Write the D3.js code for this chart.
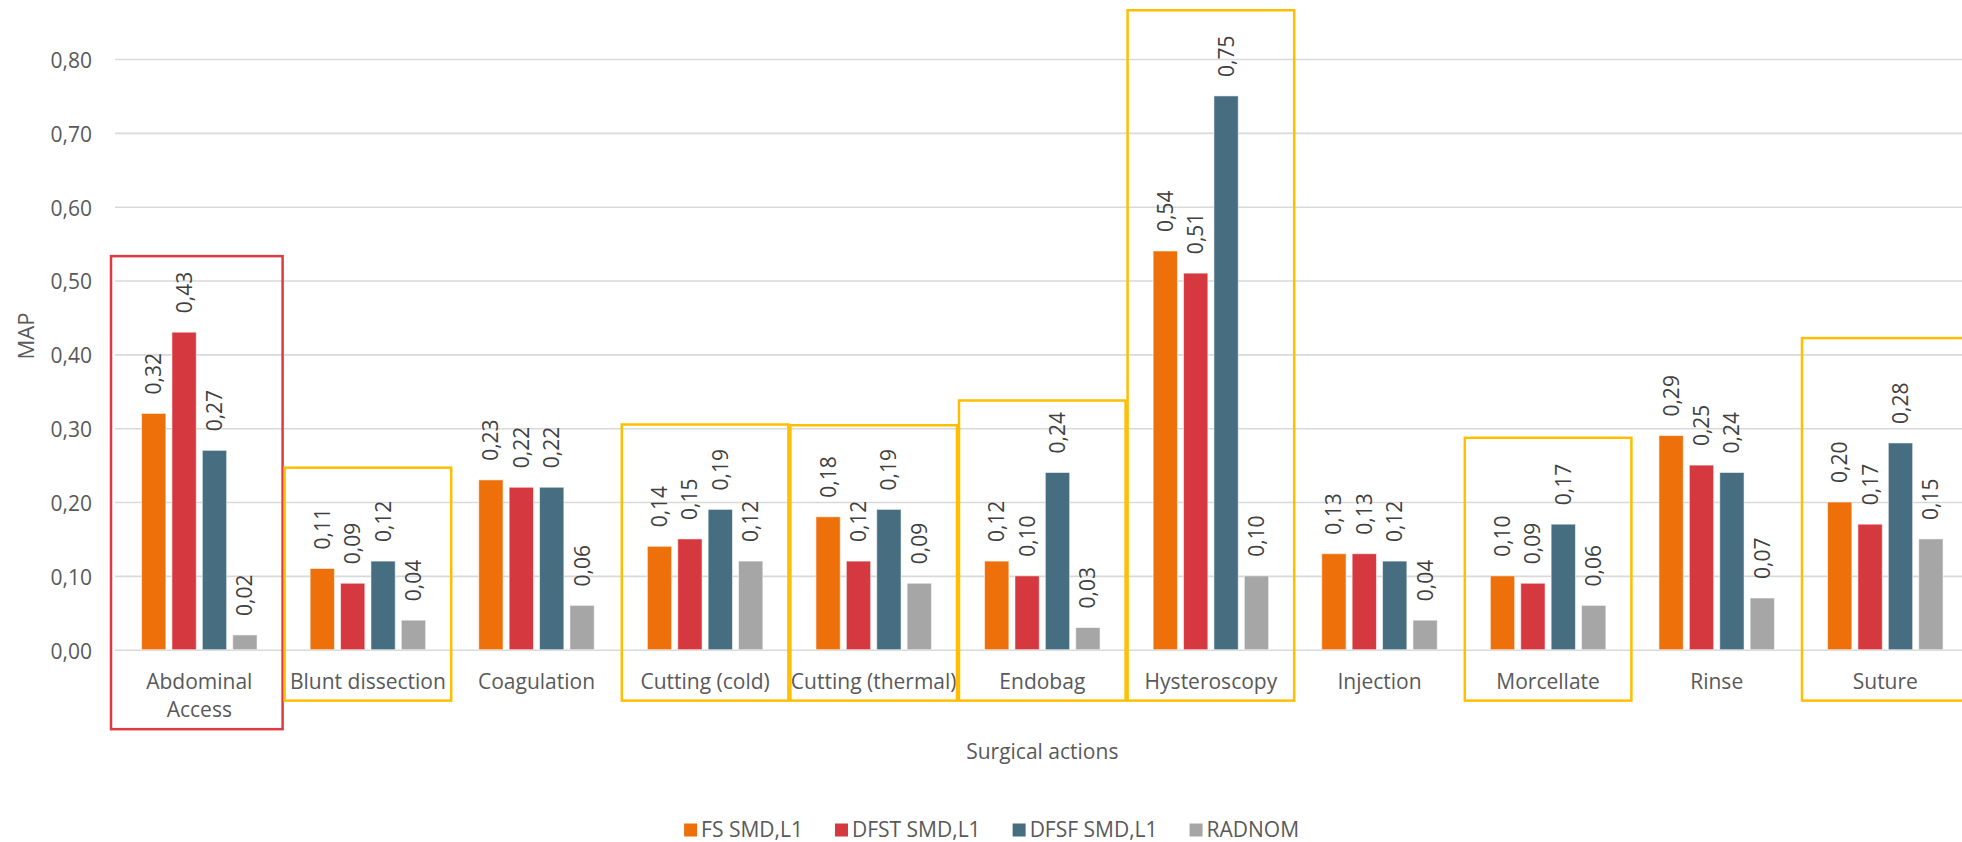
<!DOCTYPE html>
<html>
<head>
<meta charset="utf-8">
<script src="https://cdn.jsdelivr.net/npm/d3@7"></script>
<style>
  html, body { margin: 0; padding: 0; background: #ffffff; }
  svg { display: block; font-family: "Open Sans", "Noto Sans", sans-serif; }
</style>
</head>
<body>
<svg id="chart" width="1962" height="842"></svg>
<script>
// ---- data ----
const categories = [
  "Abdominal Access", "Blunt dissection", "Coagulation", "Cutting (cold)",
  "Cutting (thermal)", "Endobag", "Hysteroscopy", "Injection",
  "Morcellate", "Rinse", "Suture"
];
const seriesNames = ["FS SMD,L1", "DFST SMD,L1", "DFSF SMD,L1", "RADNOM"];
const fsSmd   = [0.32, 0.11, 0.23, 0.14, 0.18, 0.12, 0.54, 0.13, 0.10, 0.29, 0.20];
const dfstSmd = [0.43, 0.09, 0.22, 0.15, 0.12, 0.10, 0.51, 0.13, 0.09, 0.25, 0.17];
const dfsfSmd = [0.27, 0.12, 0.22, 0.19, 0.19, 0.24, 0.75, 0.12, 0.17, 0.24, 0.28];
const radnom  = [0.02, 0.04, 0.06, 0.12, 0.09, 0.03, 0.10, 0.04, 0.06, 0.07, 0.15];
const yTicks  = [0, 0.1, 0.2, 0.3, 0.4, 0.5, 0.6, 0.7, 0.8];

// highlighted groups: category and the MAP level where the frame starts
const frameCategories = ["Abdominal Access", "Blunt dissection", "Cutting (cold)", "Cutting (thermal)",
                         "Endobag", "Hysteroscopy", "Morcellate", "Suture"];
const frameTops       = [0.533, 0.2465, 0.305, 0.304, 0.3375, 0.866, 0.287, 0.422];
const frameKinds      = ["primary", "secondary", "secondary", "secondary",
                         "secondary", "secondary", "secondary", "secondary"];

// ---- styles ----
const seriesColors = ["#EE700B", "#D6383F", "#466D80", "#A6A6A6"];
const frameColors = { primary: "#DE3A42", secondary: "#FFBF00" };
const textColor = "#595959";
const gridColor = "#D9D9D9";

const series = [fsSmd, dfstSmd, dfsfSmd, radnom];
const rows = categories.map((c, i) => ({
  category: c,
  values: seriesNames.map((s, k) => ({ series: s, key: k, value: series[k][i] }))
}));

const svg = d3.select("#chart");
const plotLeft = 115, plotRight = 1969.6, plotTop = 59, plotBottom = 649.7;

const x0 = d3.scaleBand().domain(categories).range([plotLeft, plotRight])
  .paddingInner(0.315).paddingOuter(0.1575);
const x1 = d3.scaleBand().domain(seriesNames).range([0, x0.bandwidth()]).paddingInner(0.2);
const y = d3.scaleLinear().domain([0, 0.8]).range([plotBottom, plotTop]);
const step = x0.step();
const fmt = d => d3.format(".2f")(d).replace(".", ",");

// ---- y axis with gridlines ----
const yAxis = svg.append("g")
  .attr("transform", `translate(${plotLeft},0)`)
  .call(d3.axisLeft(y).tickValues(yTicks).tickFormat(fmt)
        .tickSize(-(plotRight - plotLeft)).tickPadding(23));
yAxis.select(".domain").remove();
yAxis.selectAll(".tick line").attr("stroke", gridColor).attr("stroke-width", 1.6);
yAxis.selectAll(".tick text")
  .attr("fill", textColor).attr("font-size", 21)
  .attr("font-family", "'Open Sans', sans-serif").attr("dy", "0.4em");

// ---- x axis (category labels) ----
const xAxis = svg.append("g")
  .attr("transform", `translate(0,${plotBottom})`)
  .call(d3.axisBottom(x0).tickSize(0).tickPadding(24));
xAxis.select(".domain").remove();
xAxis.selectAll(".tick text")
  .attr("fill", textColor).attr("font-size", 21)
  .attr("font-family", "'Open Sans', sans-serif");

// wrap labels that do not fit in their category slot
xAxis.selectAll(".tick text").each(function(d) {
  const t = d3.select(this);
  if (this.getComputedTextLength() <= step * 1.03) return;
  const words = d.split(" ");
  t.text(null);
  let line = [];
  let tspan = t.append("tspan").attr("x", 0).attr("dy", "0.71em");
  words.forEach(w => {
    line.push(w);
    tspan.text(line.join(" "));
    if (tspan.node().getComputedTextLength() > step * 1.03 && line.length > 1) {
      line.pop();
      tspan.text(line.join(" "));
      line = [w];
      tspan = t.append("tspan").attr("x", 0).attr("dy", "1.36em").text(w);
    }
  });
});

// ---- bars ----
const groups = svg.append("g").selectAll("g")
  .data(rows).join("g")
  .attr("transform", d => `translate(${x0(d.category)},0)`);

groups.selectAll("rect")
  .data(d => d.values).join("rect")
  .attr("x", d => x1(d.series))
  .attr("width", x1.bandwidth())
  .attr("y", d => y(d.value))
  .attr("height", d => y(0) - y(d.value))
  .attr("fill", d => seriesColors[d.key])
  .attr("stroke", "#ffffff").attr("stroke-opacity", 0.55).attr("stroke-width", 1);

// value labels, rotated above each bar
groups.selectAll("text")
  .data(d => d.values).join("text")
  .attr("transform", d => `translate(${x1(d.series) + x1.bandwidth() / 2},${y(d.value) - 19}) rotate(-90)`)
  .attr("dy", "0.36em")
  .attr("text-anchor", "start")
  .attr("font-size", 21)
  .attr("fill", "#404040")
  .text(d => fmt(d.value));

// ---- highlight frames ----
const frames = frameCategories.map((c, i) => ({ category: c, top: frameTops[i], kind: frameKinds[i] }));
const labelBottom = {};
xAxis.selectAll(".tick").each(function(d) {
  const bb = this.getBBox();
  labelBottom[d] = plotBottom + bb.y + bb.height;
});
// the first frame also takes in the space left of the first group
const frameLeft = d => x0(d.category) - (step - x0.bandwidth()) / 2 + (d.category === categories[0] ? -4 : 1);
const frameRight = d => x0(d.category) + x0.bandwidth() + (step - x0.bandwidth()) / 2 - 1;
svg.append("g").selectAll("rect")
  .data(frames).join("rect")
  .attr("x", frameLeft)
  .attr("width", d => frameRight(d) - frameLeft(d))
  .attr("y", d => y(d.top))
  .attr("height", d => labelBottom[d.category] + 6 - y(d.top))
  .attr("fill", "none")
  .attr("stroke", d => frameColors[d.kind])
  .attr("stroke-width", 2.5);

// ---- axis titles ----
svg.append("text")
  .attr("transform", `translate(26,336) rotate(-90)`)
  .attr("text-anchor", "middle").attr("dy", "0.36em")
  .attr("font-size", 22).attr("fill", textColor)
  .text("MAP");

svg.append("text")
  .attr("x", (plotLeft + plotRight) / 2).attr("y", 759)
  .attr("text-anchor", "middle")
  .attr("font-size", 21).attr("fill", textColor)
  .text("Surgical actions");

// ---- legend ----
const legend = svg.append("g");
const items = legend.selectAll("g").data(seriesNames).join("g");
items.append("rect")
  .attr("width", 13).attr("height", 13).attr("y", -6.5)
  .attr("fill", (d, i) => seriesColors[i]);
items.append("text")
  .attr("x", 17).attr("dy", "0.35em")
  .attr("font-size", 21).attr("fill", textColor)
  .text(d => d);
let cursor = 0;
items.each(function() {
  const w = 17 + d3.select(this).select("text").node().getComputedTextLength();
  d3.select(this).attr("transform", `translate(${cursor},0)`);
  cursor += w + 32;
});
const legendWidth = cursor - 32;
legend.attr("transform", `translate(${991.6 - legendWidth / 2},830)`);
</script>
</body>
</html>
